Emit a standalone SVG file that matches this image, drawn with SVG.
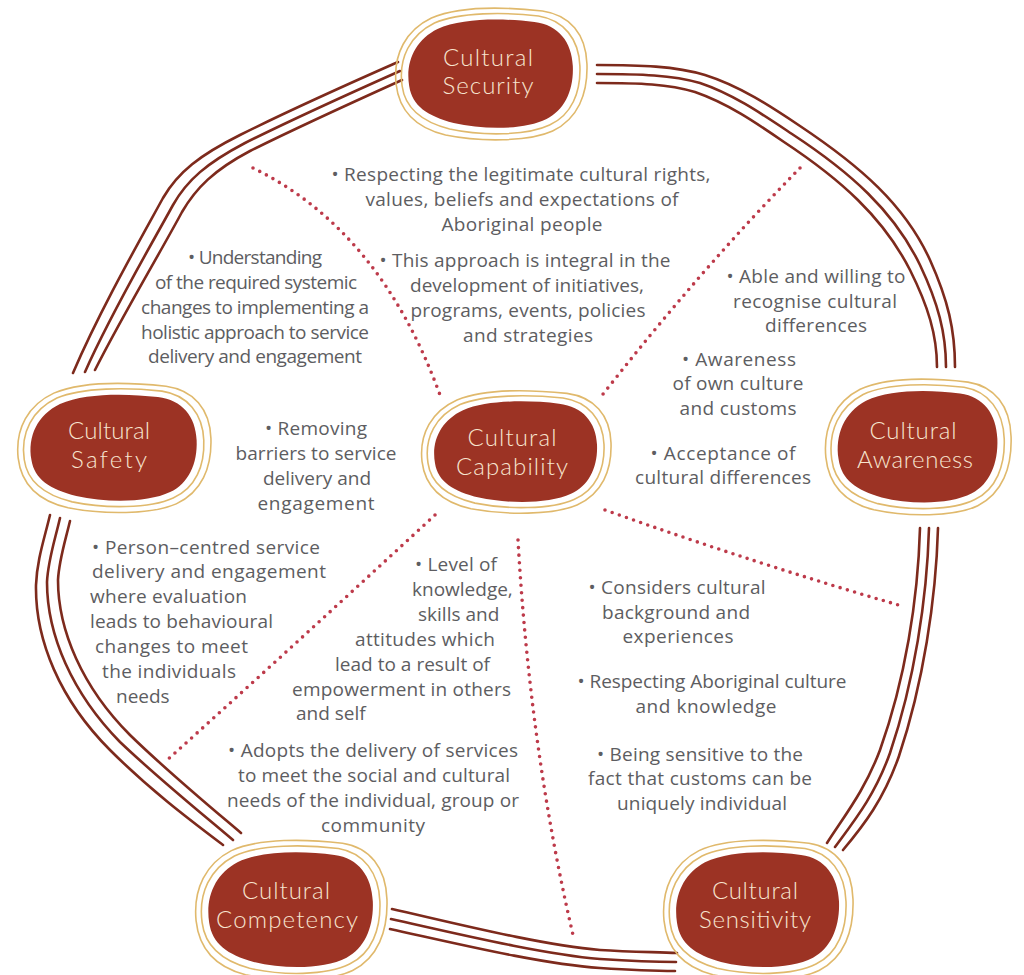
<svg xmlns="http://www.w3.org/2000/svg" xmlns:xlink="http://www.w3.org/1999/xlink" width="1024" height="975" viewBox="0 0 1024 975">
<style>
.blob{fill:#9c3324;}
.ring{fill:none;stroke:#e0b96c;stroke-width:1.6;}
.title{font-family:"Lato","Open Sans","Liberation Sans",sans-serif;font-size:24px;font-weight:300;fill:#f7e4cf;text-anchor:middle;}
.t{font-family:"Open Sans","Liberation Sans",sans-serif;font-size:19px;fill:#5d5d61;}
.m{text-anchor:middle;}
.triple{fill:none;stroke:#7d2a1c;stroke-width:2.6;stroke-linecap:round;stroke-linejoin:round;}
.dots{fill:none;stroke:#bd3a4a;stroke-width:3.6;stroke-linecap:round;stroke-dasharray:0 7.5;}
</style>
<defs>
<path id="blob" d="M -80,12 C -84,-12 -74,-34 -52,-45 C -28,-56 12,-56 44,-52 C 68,-49 81,-32 82,-8 C 83,16 74,36 56,45 C 34,56 -6,56 -36,49 C -62,42 -77,32 -80,12 Z"/>
<path id="ring1" vector-effect="non-scaling-stroke" d="M -87,12 C -91,-16 -79,-39 -55,-51 C -30,-62 14,-62 48,-58 C 73,-54 88,-35 89,-8 C 90,18 81,41 59,51 C 36,62 -8,62 -40,55 C -67,48 -84,35 -87,12 Z"/>
<path id="ring2" vector-effect="non-scaling-stroke" d="M -93,10 C -96,-20 -83,-44 -58,-56 C -30,-68 16,-67 52,-63 C 79,-59 95,-40 96,-10 C 97,20 87,45 62,57 C 38,68 -10,68 -44,61 C -73,54 -90,37 -93,10 Z"/>
</defs>

<g id="connectors">
  <!-- Security to Awareness -->
  <path class="triple" d="M 597,65 C 640,65 675,66 705,75 C 740,86 770,106 800,126 C 860,166 905,205 930,260 C 948,300 955,330 955,367"/>
  <path class="triple" d="M 597,74 C 640,74 672,75 700,83 C 733,94 762,114 792,134 C 850,172 894,211 920,265 C 938,303 946,333 946,367"/>
  <path class="triple" d="M 597,83 C 640,83 668,84 695,92 C 727,103 755,122 784,142 C 840,179 883,217 910,270 C 928,306 937,335 937,367"/>
  <!-- Security to Safety -->
  <path class="triple" d="M 398,62 C 330,92 280,115 240,135 C 200,155 178,172 163,198 C 140,240 100,310 73,373"/>
  <path class="triple" d="M 400,71 C 335,100 285,123 245,143 C 207,163 187,180 173,205 C 150,247 110,315 85,372"/>
  <path class="triple" d="M 402,80 C 340,108 290,131 250,151 C 214,170 196,188 182,212 C 160,253 120,320 95,370"/>
  <!-- Safety to Competency -->
  <path class="triple" d="M 50,515 C 44,540 37,560 36,585 C 35,640 60,700 110,750 C 150,790 190,820 223,845"/>
  <path class="triple" d="M 60,518 C 55,540 48,560 47,582 C 47,635 72,693 120,742 C 160,780 200,812 233,840"/>
  <path class="triple" d="M 70,521 C 65,542 59,560 58,580 C 58,630 82,687 130,735 C 168,772 208,805 241,833"/>
  <!-- Competency to Sensitivity -->
  <path class="triple" d="M 392,909 C 450,922 540,945 600,950 C 630,952 655,952 677,953"/>
  <path class="triple" d="M 391,919 C 450,932 540,954 600,959 C 630,961 655,962 676,962"/>
  <path class="triple" d="M 390,929 C 450,942 540,964 600,968 C 630,970 655,971 675,971"/>
  <!-- Sensitivity to Awareness -->
  <path class="triple" d="M 920,528 C 918,600 905,680 880,750 C 865,790 845,815 827,843"/>
  <path class="triple" d="M 929,528 C 927,600 914,682 890,753 C 875,795 855,820 835,847"/>
  <path class="triple" d="M 938,528 C 936,600 923,684 899,756 C 884,799 864,825 843,850"/>
  <!-- dotted spokes -->
  <path class="dots" d="M 253,168 Q 380,230 440,395"/>
  <path class="dots" d="M 800,168 Q 700,270 600,398"/>
  <path class="dots" d="M 605,510 Q 760,565 902,606"/>
  <path class="dots" d="M 518,540 Q 530,750 573,935"/>
  <path class="dots" d="M 435,515 Q 300,640 165,762"/>
</g>

<g id="node-security">
  <use href="#ring2" class="ring" transform="translate(490,74) scale(1.01,1.0)"/>
  <use href="#ring1" class="ring" transform="translate(490,74) scale(1.01,1.0)"/>
  <use href="#blob" class="blob" transform="translate(490,74) scale(1.01,1.0)"/>
  <text class="title" x="488" y="66" textLength="90">Cultural</text>
  <text class="title" x="488" y="94" textLength="91">Security</text>
</g>

<g id="node-safety">
  <use href="#ring2" class="ring" transform="translate(113,448) scale(1.02,0.98)"/>
  <use href="#ring1" class="ring" transform="translate(113,448) scale(1.02,0.98)"/>
  <use href="#blob" class="blob" transform="translate(113,448) scale(1.02,0.98)"/>
  <text class="title" x="109" y="439" textLength="82">Cultural</text>
  <text class="title" x="109" y="468" textLength="76">Safety</text>
</g>

<g id="node-capability">
  <use href="#ring2" class="ring" transform="translate(515,452) scale(1.0,0.93)"/>
  <use href="#ring1" class="ring" transform="translate(515,452) scale(1.0,0.93)"/>
  <use href="#blob" class="blob" transform="translate(515,452) scale(1.0,0.93)"/>
  <text class="title" x="512" y="446" textLength="89">Cultural</text>
  <text class="title" x="512" y="475" textLength="112">Capability</text>
</g>

<g id="node-awareness">
  <use href="#ring2" class="ring" transform="translate(917,447) scale(0.98,1.03)"/>
  <use href="#ring1" class="ring" transform="translate(917,447) scale(0.98,1.03)"/>
  <use href="#blob" class="blob" transform="translate(917,447) scale(0.98,1.03)"/>
  <text class="title" x="913" y="439" textLength="87">Cultural</text>
  <text class="title" x="915" y="468" textLength="116">Awareness</text>
</g>

<g id="node-competency">
  <use href="#ring2" class="ring" transform="translate(290,910) scale(1.01,1.06)"/>
  <use href="#ring1" class="ring" transform="translate(290,910) scale(1.01,1.06)"/>
  <use href="#blob" class="blob" transform="translate(290,910) scale(1.01,1.06)"/>
  <text class="title" x="286" y="899" textLength="88">Cultural</text>
  <text class="title" x="287" y="928" textLength="142">Competency</text>
</g>

<g id="node-sensitivity">
  <use href="#ring2" class="ring" transform="translate(757,910) scale(1.0,1.06)"/>
  <use href="#ring1" class="ring" transform="translate(757,910) scale(1.0,1.06)"/>
  <use href="#blob" class="blob" transform="translate(757,910) scale(1.0,1.06)"/>
  <text class="title" x="755" y="899" textLength="86">Cultural</text>
  <text class="title" x="755" y="928" textLength="112">Sensitivity</text>
</g>

<g id="labels">
  <text class="t m" x="521" y="181" textLength="379">• Respecting the legitimate cultural rights,</text>
  <text class="t m" x="522" y="206" textLength="313">values, beliefs and expectations of</text>
  <text class="t m" x="522" y="231" textLength="161">Aboriginal people</text>

  <text class="t m" x="525" y="267" textLength="291">• This approach is integral in the</text>
  <text class="t m" x="527" y="292" textLength="234">development of initiatives,</text>
  <text class="t m" x="528" y="317" textLength="235">programs, events, policies</text>
  <text class="t m" x="528" y="342" textLength="130">and strategies</text>

  <text class="t m" x="255" y="264" textLength="134">• Understanding</text>
  <text class="t m" x="256" y="289" textLength="202">of the required systemic</text>
  <text class="t m" x="255" y="314" textLength="228">changes to implementing a</text>
  <text class="t m" x="255" y="339" textLength="228">holistic approach to service</text>
  <text class="t m" x="255" y="363" textLength="214">delivery and engagement</text>

  <text class="t m" x="816" y="283" textLength="179">• Able and willing to</text>
  <text class="t m" x="815" y="308" textLength="164">recognise cultural</text>
  <text class="t m" x="816" y="332" textLength="102">differences</text>

  <text class="t m" x="739" y="366" textLength="114">• Awareness</text>
  <text class="t m" x="738" y="390" textLength="131">of own culture</text>
  <text class="t m" x="738" y="415" textLength="117">and customs</text>

  <text class="t m" x="723" y="460" textLength="145">• Acceptance of</text>
  <text class="t m" x="723" y="484" textLength="176">cultural differences</text>

  <text class="t m" x="316" y="435" textLength="102">• Removing</text>
  <text class="t m" x="316" y="460" textLength="161">barriers to service</text>
  <text class="t m" x="317" y="485" textLength="108">delivery and</text>
  <text class="t m" x="316" y="510" textLength="117">engagement</text>

  <text class="t" x="92" y="554" textLength="228">• Person–centred service</text>
  <text class="t" x="92" y="578" textLength="234">delivery and engagement</text>
  <text class="t" x="90" y="603" textLength="157">where evaluation</text>
  <text class="t" x="90" y="628" textLength="183">leads to behavioural</text>
  <text class="t" x="95" y="653" textLength="153">changes to meet</text>
  <text class="t" x="102" y="678" textLength="134">the individuals</text>
  <text class="t" x="116" y="703">needs</text>

  <text class="t" x="415" y="571" textLength="82">• Level of</text>
  <text class="t" x="412" y="596">knowledge,</text>
  <text class="t" x="418" y="621">skills and</text>
  <text class="t" x="355" y="646" textLength="140">attitudes which</text>
  <text class="t" x="335" y="671" textLength="155">lead to a result of</text>
  <text class="t" x="292" y="696" textLength="219">empowerment in others</text>
  <text class="t" x="296" y="720">and self</text>

  <text class="t m" x="373" y="757" textLength="290">• Adopts the delivery of services</text>
  <text class="t m" x="374" y="782" textLength="272">to meet the social and cultural</text>
  <text class="t m" x="373" y="807" textLength="292">needs of the individual, group or</text>
  <text class="t m" x="373" y="832" textLength="104">community</text>

  <text class="t m" x="677" y="594" textLength="177">• Considers cultural</text>
  <text class="t m" x="676" y="619" textLength="148">background and</text>
  <text class="t m" x="678" y="643" textLength="111">experiences</text>
  <text class="t m" x="712" y="688" textLength="269">• Respecting Aboriginal culture</text>
  <text class="t m" x="706" y="713" textLength="141">and knowledge</text>
  <text class="t m" x="700" y="761" textLength="206">• Being sensitive to the</text>
  <text class="t m" x="700" y="785" textLength="224">fact that customs can be</text>
  <text class="t m" x="702" y="810" textLength="170">uniquely individual</text>
</g>
</svg>
